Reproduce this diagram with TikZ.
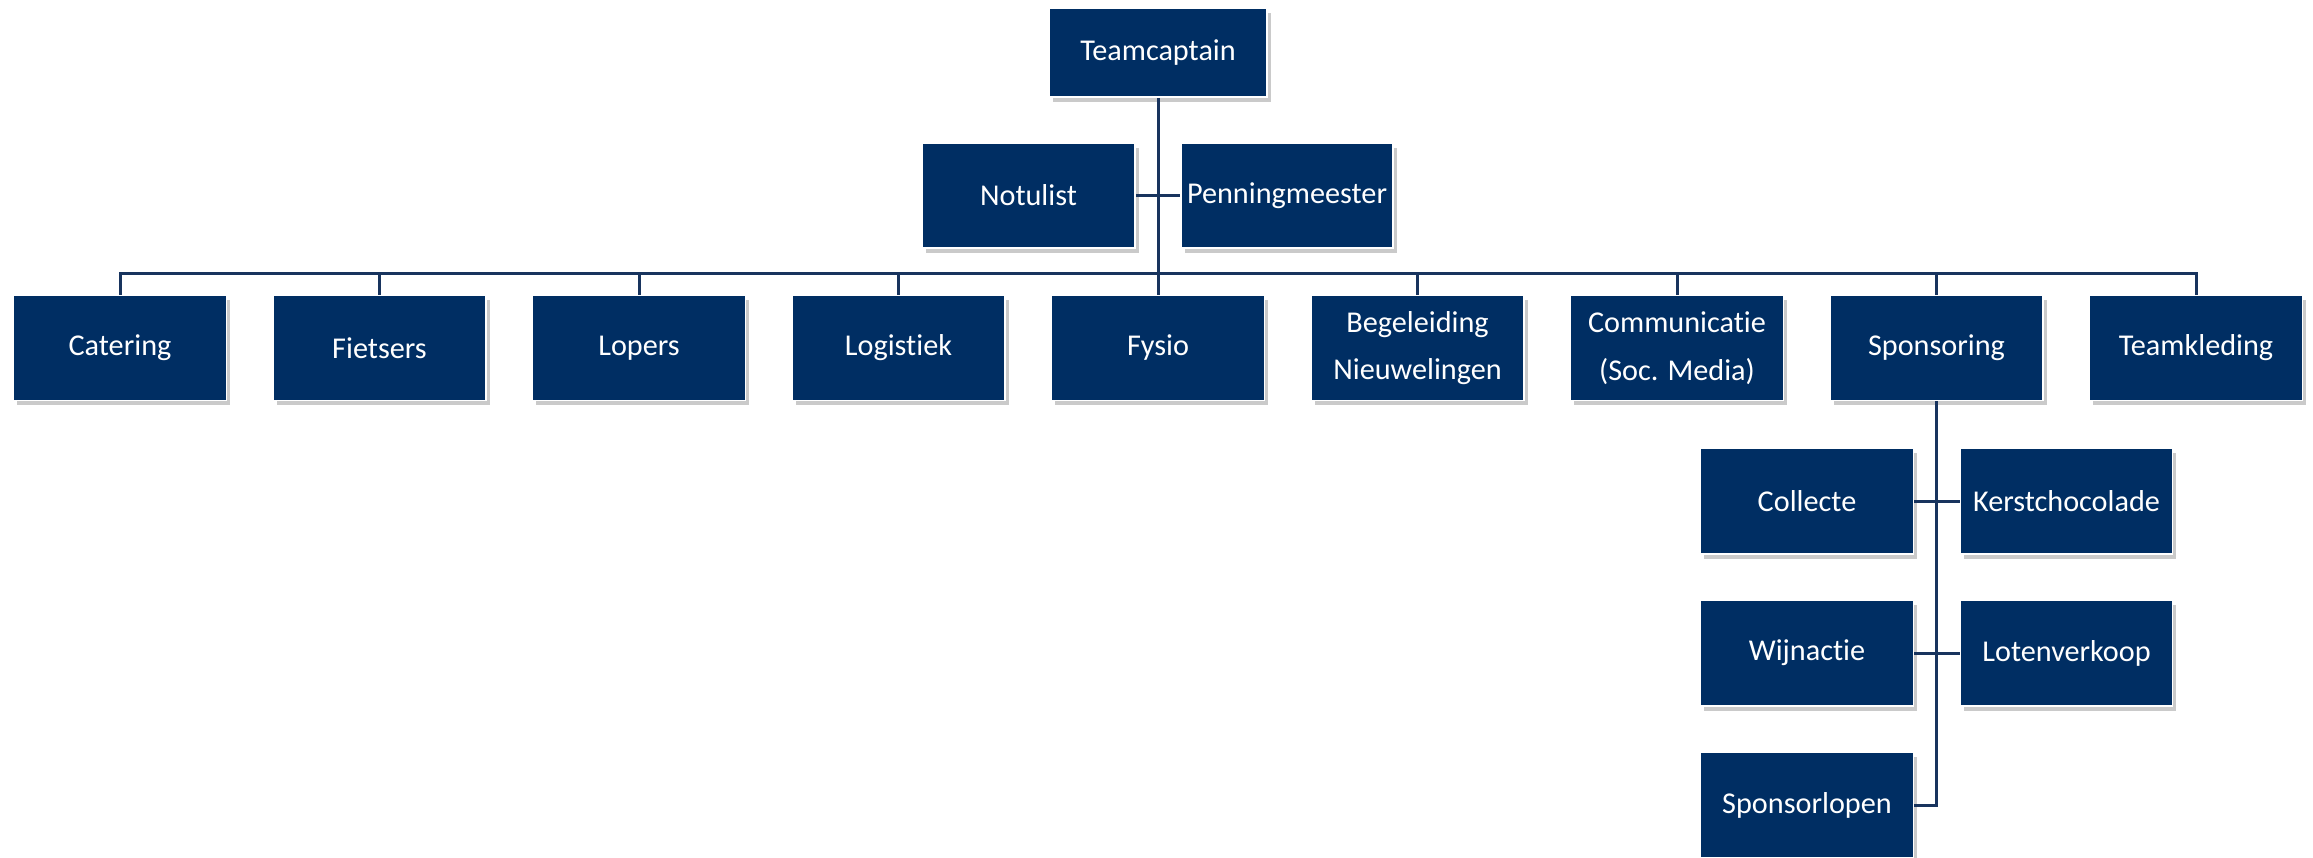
\documentclass[tikz,border=0pt]{standalone}
\usepackage{fontspec}
\setmainfont{Carlito}[Ligatures=NoCommon]
\usetikzlibrary{shadows}
\definecolor{boxblue}{RGB}{0,46,99}
\definecolor{lineblue}{RGB}{24,52,94}
\begin{document}
\begin{tikzpicture}
    [
    unit/.style={rectangle,draw=white,line width=0.015cm,fill=boxblue,text=white,
      minimum width=2.13cm,minimum height=1.05cm,inner sep=0pt,align=center,
      font=\fontsize{8.6pt}{13.6pt}\selectfont,
      drop shadow={shadow xshift=0.035cm,shadow yshift=-0.045cm,opacity=0.35,fill=black!60}},
    link/.style={draw=lineblue,line width=0.03cm}
    ]
    \useasboundingbox (0,0) rectangle (23.13,-8.57);
    \node (tc) at (11.58,-0.525) [unit,minimum width=2.18cm,minimum height=0.89cm] {Teamcaptain};
    \node (not) at (10.285,-1.955) [unit] {Notulist};
    \node (pen) at (12.87,-1.955) [unit,minimum width=2.12cm] {Penningmeester};
    \coordinate (bus) at (11.58,-2.73);
    \draw [link] (tc.south) -- (bus);
    \draw [link] (not.east) -- (pen.west);

    \node (cat) at (1.20,-3.48) [unit] {Catering};
    \node (fie) at (3.795,-3.48) [unit] {Fietsers};
    \node (lop) at (6.39,-3.48) [unit] {Lopers};
    \node (log) at (8.985,-3.48) [unit] {Logistiek};
    \node (fys) at (11.58,-3.48) [unit] {Fysio};
    \node (beg) at (14.175,-3.48) [unit] {Begeleiding\\Nieuwelingen};
    \node (com) at (16.77,-3.48) [unit] {Communicatie\\(Soc. Media)};
    \node (spo) at (19.365,-3.48) [unit] {Sponsoring};
    \node (tkl) at (21.96,-3.48) [unit] {Teamkleding};
    \draw [link] (bus) -| (cat.north);
    \draw [link] (bus) -| (fie.north);
    \draw [link] (bus) -| (lop.north);
    \draw [link] (bus) -| (log.north);
    \draw [link] (bus) -- (fys.north);
    \draw [link] (bus) -| (beg.north);
    \draw [link] (bus) -| (com.north);
    \draw [link] (bus) -| (spo.north);
    \draw [link] (bus) -| (tkl.north);

    \node (col) at (18.07,-5.01) [unit,minimum height=1.06cm] {Collecte};
    \node (ker) at (20.665,-5.01) [unit,minimum width=2.12cm,minimum height=1.06cm] {Kerstchocolade};
    \node (wij) at (18.07,-6.53) [unit,minimum height=1.06cm] {Wijnactie};
    \node (lot) at (20.665,-6.53) [unit,minimum width=2.12cm,minimum height=1.06cm] {Lotenverkoop};
    \node (slo) at (18.07,-8.05) [unit,minimum height=1.06cm] {Sponsorlopen};
    \coordinate (send) at (spo.south |- slo.east);
    \draw [link] (spo.south) -- (send) -- (slo.east);
    \draw [link] (col.east) -- (ker.west);
    \draw [link] (wij.east) -- (lot.west);
\end{tikzpicture}
\end{document}
